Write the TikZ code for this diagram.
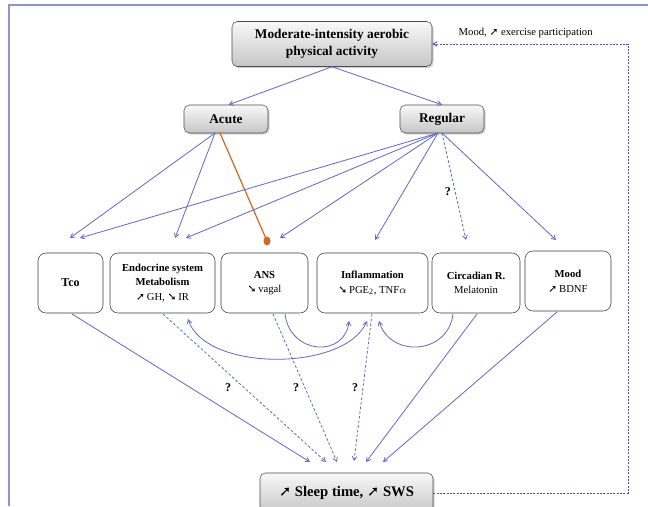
\documentclass[tikz,border=0pt]{standalone}
\usepackage{fontspec}
\setmainfont{Liberation Serif}
\newfontfamily\symf{DejaVu Sans}
\usetikzlibrary{arrows.meta,shadows}
\newcommand{\arNE}{{\symf\char"279A}}
\newcommand{\arSE}{{\symf\char"2798}}
\definecolor{lnblue}{RGB}{95,105,195}
\definecolor{dotblue}{RGB}{80,80,175}
\definecolor{orng}{RGB}{205,105,35}
\definecolor{framec}{RGB}{140,150,205}
\begin{document}
\begin{tikzpicture}[x=0.75pt,y=-0.75pt,
  graybox/.style={draw=gray!60!black, rounded corners=4pt, top color=gray!5, bottom color=gray!45,
     drop shadow={shadow xshift=1.2pt, shadow yshift=-1.2pt, opacity=0.35},
     font=\fontsize{10}{13}\selectfont\bfseries, align=center, inner sep=1pt},
  whitebox/.style={draw=gray!45!black, rounded corners=6pt, fill=white, align=center,
     font=\fontsize{8}{11}\selectfont, minimum height=45pt, inner sep=1pt},
  conn/.style={lnblue, line width=0.6pt, -{Straight Barb[length=3pt,width=3.5pt]}},
  dconn/.style={conn, dash pattern=on 2pt off 1.5pt},
  qm/.style={font=\fontsize{9}{10}\selectfont\bfseries, inner sep=0pt, text=black},
  dotline/.style={dotblue, line width=0.7pt, dash pattern=on 1.5pt off 1pt}
]
\clip (0,0) rectangle (648,506);
\fill[white] (0,0) rectangle (648,506);
\draw[framec, line width=1.2pt] (9,506) -- (9,5) -- (648,5);

% top nodes
\node[graybox, minimum width=150pt, minimum height=33.75pt] (pa) at (332,44) {Moderate-intensity aerobic\\physical activity};
\node[graybox, minimum width=63pt, minimum height=21pt] (acute) at (226,119) {Acute};
\node[graybox, minimum width=63pt, minimum height=21pt] (regular) at (442,119) {Regular};

% row of boxes
\node[whitebox, minimum width=48.75pt] (tco) at (70.5,283) {\fontsize{9}{11}\selectfont\bfseries Tco};
\node[whitebox, minimum width=78.75pt] (endo) at (162.5,283) {\textbf{Endocrine system}\\\textbf{Metabolism}\\\arNE\,GH, \arSE\,IR};
\node[whitebox, minimum width=65.25pt] (ans) at (264.5,283) {\textbf{ANS}\\\arSE\,vagal};
\node[whitebox, minimum width=83.25pt] (infl) at (372.5,283) {\textbf{Inflammation}\\\arSE\,PGE\textsubscript{2}, TNF$\alpha$};
\node[whitebox, minimum width=66pt] (circ) at (476,283) {\textbf{Circadian R.}\\Melatonin};
\node[whitebox, minimum width=64.5pt] (mood) at (568,281) {\textbf{Mood}\\\arNE\,BDNF};

% sleep node
\node[graybox, minimum width=129.75pt, minimum height=30pt, font=\fontsize{11}{13}\selectfont\bfseries] (sleep) at (346.5,493) {\arNE\ Sleep time, \arNE\ SWS};

% label
\node[font=\fontsize{8}{10}\selectfont, anchor=west] (moodlbl) at (454,33) {Mood, \arNE\ exercise participation};

% tips above boxes
\coordinate (tA1) at (70,238);
\coordinate (tA2) at (175,238);
\coordinate (tA3) at (267,241);
\coordinate (tR1) at (80,238);
\coordinate (tR2) at (186,238);
\coordinate (tR3) at (280,238);
\coordinate (tR4) at (375,240);
\coordinate (tR5) at (466,240);
\coordinate (tR6) at (556,240);
\coordinate (aS) at (215,133);
\coordinate (aO) at (220,133);
\coordinate (rS) at (438,133);

% top -> acute/regular
\draw[conn] (pa.south) -- ([xshift=2pt]acute.north);
\draw[conn] (pa.south) -- (regular.north);

% acute arrows
\draw[conn] (aS) -- (tA1);
\draw[conn] (aS) -- (tA2);
\draw[orng, line width=0.9pt] (aO) -- (tA3);
\fill[orng] (tA3) ellipse (3.5 and 4.5);

% regular arrows
\draw[conn] (rS) -- (tR1);
\draw[conn] (rS) -- (tR2);
\draw[conn] (rS) -- (tR3);
\draw[conn] (rS) -- (tR4);
\draw[dconn] ([xshift=3pt]rS) -- node[qm, pos=0.55, left=3pt] (q0) {?} (tR5);
\draw[conn] ([xshift=3pt]rS) -- (tR6);

% bottom tips
\coordinate (s1) at (310,462);
\coordinate (s2) at (326,462);
\coordinate (s3) at (337,462);
\coordinate (s4) at (354,461);
\coordinate (s5) at (366,462);
\coordinate (s6) at (383,462);
\coordinate (b1) at (72,314);
\coordinate (b2) at (163,314);
\coordinate (b3) at (273,314);
\coordinate (b4) at (372,314);
\coordinate (b5) at (477,314);
\coordinate (b6) at (557,312);

\draw[conn] (b1) -- (s1);
\draw[dconn] (b2) -- (s2);
\draw[dconn] (b3) -- (s3);
\draw[dconn] (b4) -- (s4);
\draw[conn] (b5) -- (s5);
\draw[conn] (b6) -- (s6);

\node[qm] (q1) at (228,388) {?};
\node[qm] (q2) at (296,388) {?};
\node[qm] (q3) at (355,388) {?};

% curved interactions
\coordinate (c1) at (188,319);
\coordinate (c2) at (367,321);
\coordinate (c3) at (285,314);
\coordinate (c4) at (349,321);
\coordinate (c5) at (453,314);
\coordinate (c6) at (379,321);
\draw[conn, {Straight Barb[length=3pt,width=3.5pt]}-{Straight Barb[length=3pt,width=3.5pt]}] (c1) .. controls (205,372) and (345,372) .. (c2);
\draw[conn] (c3) .. controls (290,355) and (345,358) .. (c4);
\draw[conn] (c5) .. controls (448,355) and (390,358) .. (c6);

% feedback dotted loop
\draw[dotline, -{Straight Barb[length=3pt,width=3.5pt]}] (sleep.east) -- (628,493) -- (628,44) -- (pa.east);
\end{tikzpicture}
\end{document}
